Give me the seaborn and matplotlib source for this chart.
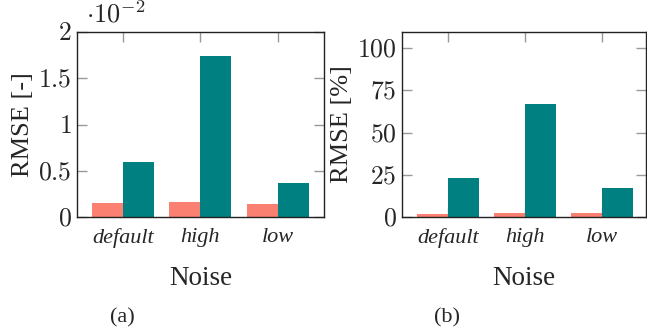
import matplotlib
matplotlib.use("Agg")
import matplotlib.pyplot as plt
import seaborn as sns
import pandas as pd

categories = ["default", "high", "low"]
series_names = ["A", "B"]
rmse_abs_a = [0.15, 0.16, 0.14]
rmse_abs_b = [0.59, 1.74, 0.37]
rmse_pct_a = [2.0, 2.4, 2.2]
rmse_pct_b = [23.0, 67.0, 17.2]
yticks_abs = [0, 0.5, 1, 1.5, 2]
yticks_pct = [0, 25, 50, 75, 100]
colors = ["#FA8072", "#008080"]

sns.set_theme(style="ticks")
plt.rcParams["font.family"] = ["Liberation Serif", "DejaVu Serif"]
plt.rcParams["mathtext.fontset"] = "cm"

def make_df(a, b):
    rows = []
    for c, va, vb in zip(categories, a, b):
        rows.append({"Noise": c, "series": series_names[0], "val": va})
        rows.append({"Noise": c, "series": series_names[1], "val": vb})
    return pd.DataFrame(rows)

fig = plt.figure(figsize=(6.47, 3.32), dpi=100)
ax1 = fig.add_axes([77/647, 115/332, 247/647, 185/332])
ax2 = fig.add_axes([402/647, 115/332, 244/647, 185/332])

def style(ax, df, yticks, ylim, xlim, ylabel):
    sns.barplot(data=df, x="Noise", y="val", hue="series", palette=colors,
                width=0.8, ax=ax, legend=False, saturation=1, linewidth=0,
                errorbar=None)
    ax.set_ylim(*ylim)
    ax.set_xlim(*xlim)
    ax.set_yticks(yticks)
    ax.set_yticklabels([f"${t:g}$" for t in yticks], fontsize=18.5)
    ax.set_xticks(range(len(categories)))
    ax.set_xticklabels(categories, fontsize=16, style="italic")
    ax.tick_params(axis="both", direction="in", length=7, width=1,
                   color="#999999", top=True, right=True, pad=4)
    ax.tick_params(axis="x", pad=8)
    for s in ax.spines.values():
        s.set_visible(True)
        s.set_linewidth(1.0)
        s.set_color("#222222")
    ax.set_xlabel("Noise", fontsize=19.5, labelpad=13)
    ax.set_ylabel(ylabel, fontsize=19, labelpad=3)

style(ax1, make_df(rmse_abs_a, rmse_abs_b), yticks_abs, (0, 2), (-0.59, 2.6), "RMSE [-]")
style(ax2, make_df(rmse_pct_a, rmse_pct_b), yticks_pct, (0, 109.5), (-0.6, 2.57), "RMSE [%]")

ax1.text(0.035, 1.025, r"$\cdot 10^{-2}$", transform=ax1.transAxes, fontsize=19,
         ha="left", va="bottom")

fig.text(122/647, 1 - 318/332, "(a)", fontsize=16, ha="center", va="center")
fig.text(447/647, 1 - 318/332, "(b)", fontsize=16, ha="center", va="center")

fig.savefig("out.png", dpi=100)
